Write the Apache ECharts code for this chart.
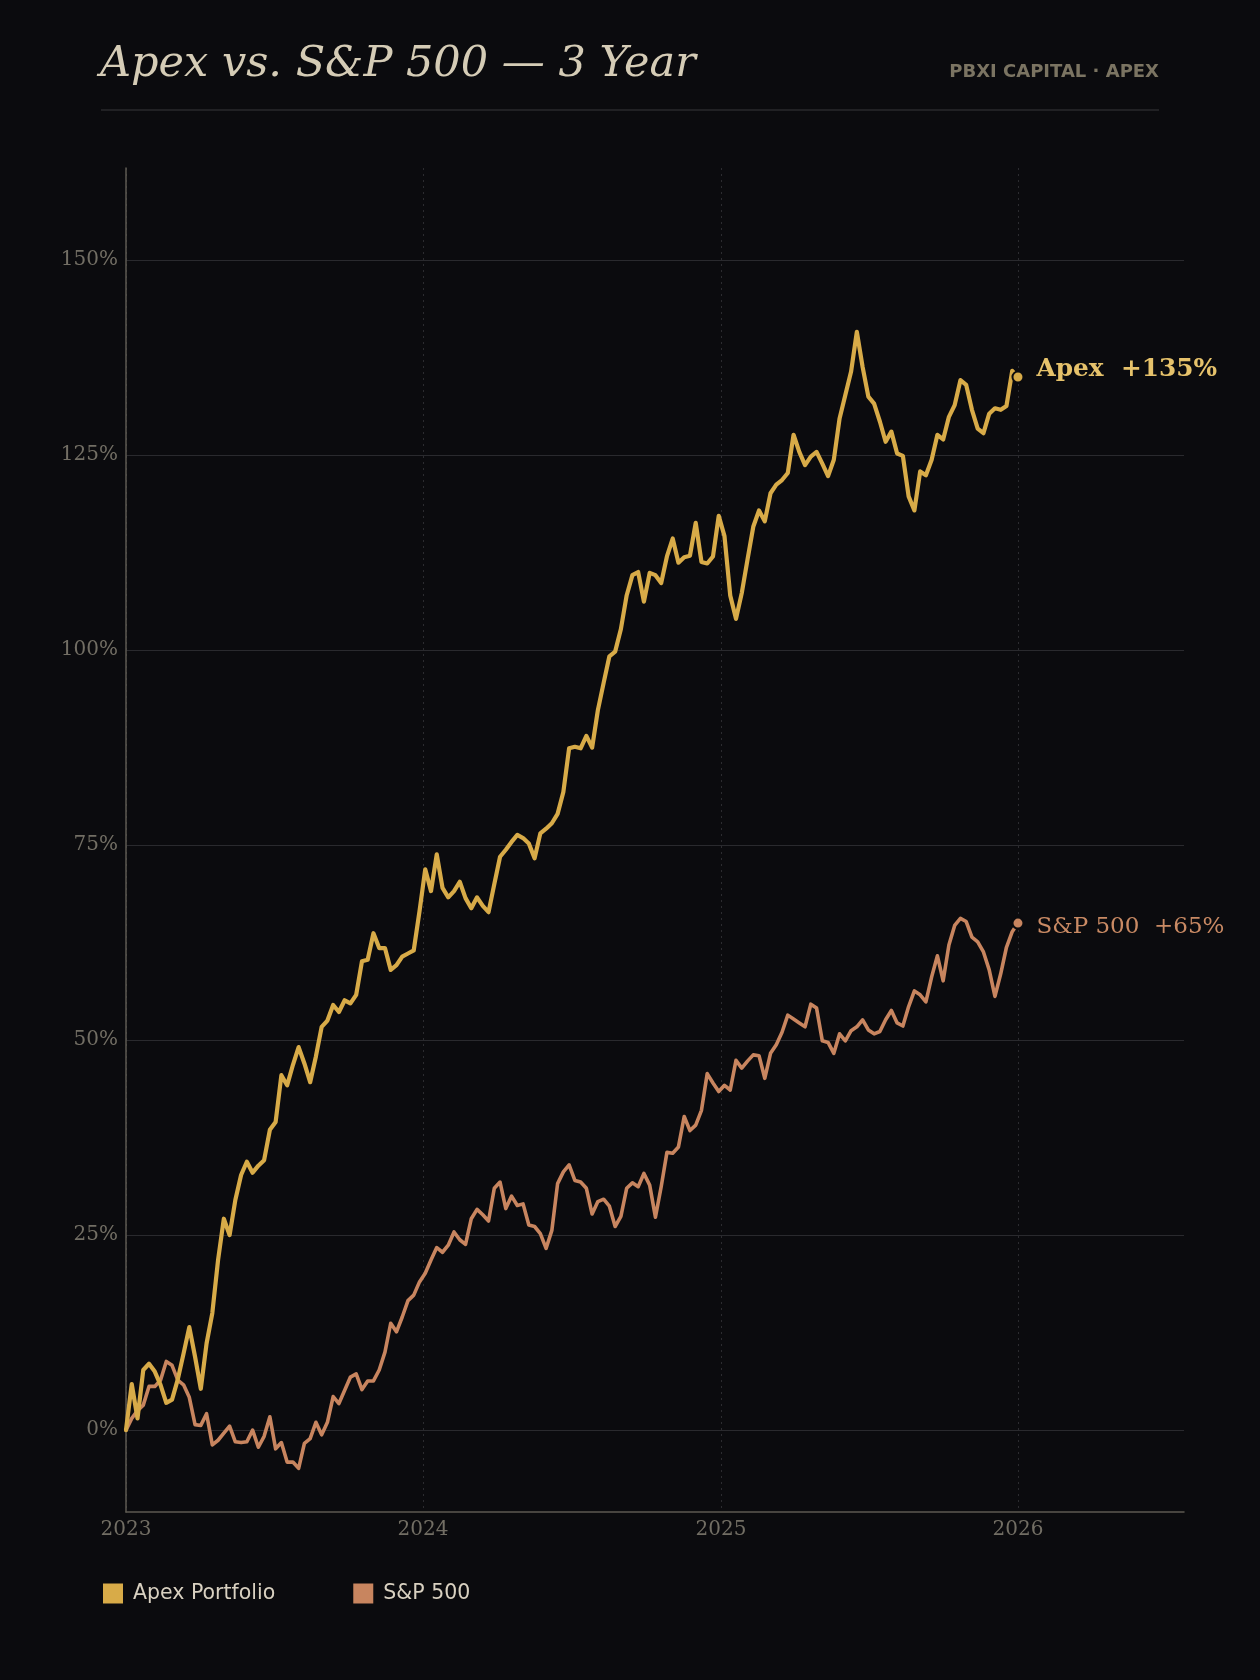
<!DOCTYPE html>
<html style="height: 100%">
<head>
 <meta charset="utf-8">
 <title>Apex vs. S&amp;P 500</title>
 <script src="https://cdn.jsdelivr.net/npm/echarts@6/dist/echarts.min.js"></script>
</head>
<body style="height: 100%; margin: 0; background: #0b0b0e">
 <div id="container" style="width: 1260px; height: 1680px"></div>
 <script type="text/javascript">
    // cumulative return (%), roughly weekly closes, 2023-01-01 .. 2026-01-01
    var apexValues = [
        0, 5.9, 1.5, 7.7, 8.5, 7.5, 5.8, 3.5, 3.9, 6.5,
        9.8, 13.2, 9.4, 5.3, 11.1, 15.0, 21.8, 27.1, 25.0, 29.5,
        32.7, 34.4, 33.0, 33.9, 34.6, 38.5, 39.5, 45.5, 44.2, 46.8,
        49.1, 47.0, 44.6, 47.9, 51.7, 52.5, 54.5, 53.6, 55.1, 54.7,
        55.8, 60.1, 60.3, 63.7, 61.8, 61.8, 59.0, 59.6, 60.7, 61.1,
        61.5, 66.5, 71.9, 69.1, 73.8, 69.5, 68.3, 69.1, 70.3, 68.2,
        66.9, 68.3, 67.2, 66.4, 70.0, 73.5, 74.4, 75.4, 76.3, 75.9,
        75.2, 73.3, 76.5, 77.1, 77.8, 79.0, 81.8, 87.4, 87.6, 87.4,
        89.0, 87.5, 92.3, 95.8, 99.2, 99.8, 102.7, 107.0, 109.6, 110.0,
        106.2, 109.9, 109.6, 108.6, 112.0, 114.3, 111.2, 111.9, 112.1, 116.3,
        111.3, 111.1, 112.0, 117.2, 114.6, 107.0, 104.0, 107.3, 111.6, 115.8,
        117.9, 116.5, 120.1, 121.2, 121.8, 122.7, 127.6, 125.4, 123.7, 124.8,
        125.4, 123.9, 122.3, 124.4, 129.7, 132.7, 135.7, 140.8, 136.3, 132.5,
        131.6, 129.3, 126.7, 128.0, 125.2, 124.9, 119.7, 117.9, 122.9, 122.4,
        124.4, 127.6, 127.0, 129.9, 131.4, 134.6, 134.0, 130.8, 128.4, 127.8,
        130.3, 131.0, 130.8, 131.3, 135.8, 135.0
    ];
    var spxValues = [
        0, 1.5, 2.5, 3.2, 5.6, 5.6, 6.4, 8.8, 8.3, 6.4,
        5.8, 4.2, 0.7, 0.6, 2.1, -1.9, -1.3, -0.4, 0.5, -1.5,
        -1.6, -1.5, 0.0, -2.2, -0.8, 1.7, -2.4, -1.6, -4.1, -4.1,
        -4.9, -1.7, -1.1, 1.0, -0.6, 1.0, 4.3, 3.4, 5.1, 6.8,
        7.2, 5.2, 6.3, 6.3, 7.7, 10.0, 13.7, 12.6, 14.5, 16.6,
        17.3, 19.0, 20.1, 21.8, 23.4, 22.8, 23.7, 25.4, 24.4, 23.8,
        27.1, 28.3, 27.6, 26.8, 31.0, 31.8, 28.4, 30.0, 28.8, 29.0,
        26.3, 26.1, 25.2, 23.3, 25.6, 31.6, 33.1, 34.0, 32.0, 31.8,
        31.0, 27.7, 29.3, 29.6, 28.7, 26.1, 27.4, 31.0, 31.7, 31.2,
        32.9, 31.4, 27.3, 31.2, 35.6, 35.5, 36.3, 40.2, 38.4, 39.1,
        41.0, 45.7, 44.5, 43.4, 44.2, 43.6, 47.4, 46.4, 47.3, 48.1,
        48.0, 45.1, 48.3, 49.4, 51.0, 53.2, 52.7, 52.2, 51.7, 54.6,
        54.1, 49.9, 49.7, 48.3, 50.8, 49.9, 51.2, 51.7, 52.6, 51.3,
        50.8, 51.1, 52.6, 53.8, 52.2, 51.8, 54.3, 56.3, 55.8, 54.9,
        58.1, 60.8, 57.6, 62.2, 64.7, 65.6, 65.2, 63.2, 62.6, 61.3,
        59.0, 55.6, 58.5, 61.9, 63.9, 65.0
    ];
    var seriesNames = ['Apex Portfolio', 'S&P 500'];
    var endLabels = ['Apex', 'S&P 500'];
    var yTicks = [0, 25, 50, 75, 100, 125, 150];
    var yearTicks = ['2023-01-01', '2024-01-01', '2025-01-01', '2026-01-01'];
    var startDate = '2023-01-01';
    var endDate = '2026-01-01';
    var axisEndDate = '2026-07-24';

    var BG = '#0b0b0e';
    var GOLD = '#d8ab48';
    var COPPER = '#c8855f';
    var MUTED = '#726e64';

    function ts(s) {
        var p = s.split('-');
        return Date.UTC(+p[0], +p[1] - 1, +p[2]);
    }

    // spread the closes evenly between the first and last date
    var t0 = ts(startDate), t1 = ts(endDate);
    var dates = [];
    for (var i = 0; i < apexValues.length; i++) {
        dates.push(t0 + (t1 - t0) * i / (apexValues.length - 1));
    }

    // last point gets a dot and an end-of-line label
    function buildData(values, name, color, opts) {
        return values.map(function (v, i) {
            if (i < values.length - 1) return [dates[i], v];
            return {
                value: [dates[i], v],
                symbol: 'circle',
                symbolSize: 11,
                itemStyle: { color: color, borderColor: BG, borderWidth: 2 },
                label: {
                    show: true,
                    position: 'right',
                    distance: 12,
                    offset: [0, opts.dy],
                    formatter: name + '  +' + Math.round(v) + '%',
                    fontFamily: 'DejaVu Serif',
                    fontSize: opts.size,
                    fontWeight: opts.bold ? 'bold' : 'normal',
                    color: opts.color
                }
            };
        });
    }

    var dom = document.getElementById('container');
    var myChart = echarts.init(dom, null, { renderer: 'canvas' });

    myChart.setOption({
        backgroundColor: BG,
        animation: false,
        title: [
            {
                text: 'Apex vs. S&P 500 \u2014 3 Year',
                left: 95,
                top: 38,
                textStyle: {
                    fontFamily: 'DejaVu Serif',
                    fontStyle: 'italic',
                    fontWeight: 'normal',
                    fontSize: 43,
                    color: '#d5ccb6'
                }
            },
            {
                text: 'PBXI CAPITAL \u00b7 APEX',
                right: 96,
                top: 58,
                textStyle: {
                    fontFamily: 'DejaVu Sans',
                    fontWeight: 'bold',
                    fontSize: 18,
                    color: '#7b7462'
                }
            }
        ],
        graphic: [{
            type: 'line',
            shape: { x1: 101, y1: 110, x2: 1159, y2: 110 },
            style: { stroke: '#38383b', lineWidth: 1.2 }
        }],
        legend: {
            data: seriesNames,
            left: 98,
            top: 1578,
            icon: 'rect',
            itemWidth: 20,
            itemHeight: 20,
            itemGap: 78,
            textStyle: {
                fontFamily: 'DejaVu Sans',
                fontSize: 20.5,
                color: '#d9d1c1',
                padding: [0, 0, 0, 5]
            }
        },
        grid: { left: 126, right: 76, top: 168, bottom: 168 },
        xAxis: {
            type: 'value',
            min: t0,
            max: ts(axisEndDate),
            axisLine: { show: true, onZero: false, lineStyle: { color: '#5e5a52', width: 1.5 } },
            axisTick: { show: false, customValues: yearTicks.map(ts) },
            axisLabel: {
                customValues: yearTicks.map(ts),
                formatter: function (val) { return String(new Date(val).getUTCFullYear()); },
                fontFamily: 'DejaVu Serif',
                fontSize: 20,
                color: MUTED,
                margin: 8
            },
            splitLine: { show: true, lineStyle: { color: '#2c2c30', type: [2, 4], width: 1 } }
        },
        yAxis: {
            type: 'value',
            min: -10.5,
            max: 161.8,
            axisLine: { show: true, onZero: false, lineStyle: { color: '#5e5a52', width: 1.5 } },
            axisTick: { show: false, customValues: yTicks },
            axisLabel: {
                customValues: yTicks,
                formatter: '{value}%',
                fontFamily: 'DejaVu Serif',
                fontSize: 20,
                color: MUTED,
                margin: 8,
                padding: [4, 0, 0, 0]
            },
            splitLine: { show: true, lineStyle: { color: '#2a2a2e', width: 1.2 } }
        },
        series: [
            {
                name: seriesNames[0],
                type: 'line',
                z: 3,
                symbol: 'none',
                showSymbol: true,
                color: GOLD,
                lineStyle: { width: 4.2, color: GOLD, cap: 'round', join: 'round' },
                data: buildData(apexValues, endLabels[0], GOLD,
                    { bold: true, size: 24.8, dy: -7, color: '#e6c26b' })
            },
            {
                name: seriesNames[1],
                type: 'line',
                z: 2,
                symbol: 'none',
                showSymbol: true,
                color: COPPER,
                lineStyle: { width: 3.6, color: COPPER, cap: 'round', join: 'round' },
                data: buildData(spxValues, endLabels[1], COPPER,
                    { bold: false, size: 23, dy: 4, color: '#c98a64' })
            }
        ]
    });
 </script>
</body>
</html>
